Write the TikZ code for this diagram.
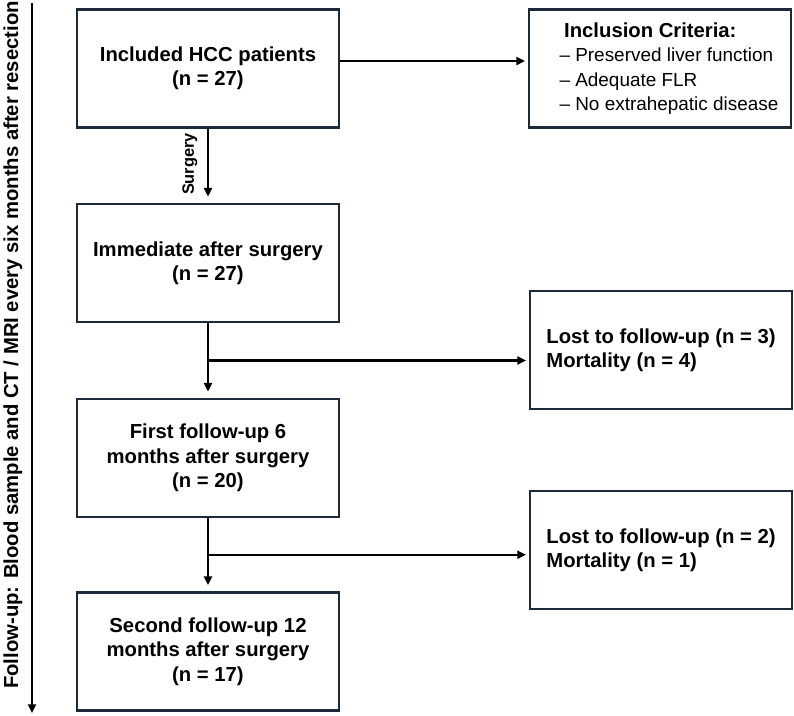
\documentclass[tikz,border=0pt]{standalone}
\usepackage{fontspec}
\setmainfont{Liberation Sans}
\usetikzlibrary{arrows.meta,calc,positioning}
\definecolor{fcNavy}{HTML}{1C2A39}

\begin{document}
\begin{tikzpicture}[x=0.75pt,y=-0.75pt,
  flowbox/.style={draw=fcNavy,line width=2pt,minimum width=196.5pt,minimum height=88.5pt,
    inner sep=2pt,align=center,font=\fontsize{15.2}{18.3}\selectfont\bfseries},
  sidebox/.style={flowbox,align=left},
  arr/.style={line width=1.7pt,-{Triangle[length=6.5pt,width=6pt]}}]
\useasboundingbox (0,0) rectangle (794,716);
\node[flowbox] (incl) at (208,68.5) {Included HCC patients\\(n = 27)};
\node[sidebox] (crit) at (660,68.5) {\hspace*{17pt}Inclusion Criteria:\\
  \hspace*{13.5pt}\fontsize{14.2}{18.3}\selectfont\mdseries\textendash\ Preserved liver function\\
  \hspace*{13.5pt}\fontsize{14.2}{18.3}\selectfont\mdseries\textendash\ Adequate FLR\\
  \hspace*{13.5pt}\fontsize{14.2}{18.3}\selectfont\mdseries\textendash\ No extrahepatic disease};
\node[flowbox] (immed) at (208,263) {Immediate after surgery\\(n = 27)};
\node[sidebox] (lost1) at (661,350) {Lost to follow-up (n = 3)\\Mortality (n = 4)};
\node[flowbox] (first) at (208,458) {First follow-up 6\\months after surgery\\(n = 20)};
\node[sidebox] (lost2) at (661,550) {Lost to follow-up (n = 2)\\Mortality (n = 1)};
\node[flowbox] (second) at (208,651.5) {Second follow-up 12\\months after surgery\\(n = 17)};
\draw[arr,shorten >=2pt] ([yshift=5.6pt]incl.east) -- ([yshift=5.6pt]crit.west);
\draw[arr,shorten >=4.5pt] (incl.south) -- (immed.north);
\node[rotate=90,font=\fontsize{12.3}{14}\selectfont\bfseries] (surg) at (190,164) {Surgery};
\draw[arr,shorten >=4.5pt] (immed.south) -- (first.north);
\draw[arr,shorten >=4.5pt] (first.south) -- (second.north);
\coordinate (br1) at ($(immed.south)!0.5!(first.north)$);
\coordinate (br2) at ($(first.south)!0.5!(second.north)$);
\draw[arr,shorten >=2pt] (br1) -- (br1 -| lost1.west);
\draw[arr,shorten >=2pt] (br2) -- (br2 -| lost2.west);
\coordinate (ftop) at (32,3);
\coordinate (fbot) at (32,713);
\draw[arr] (ftop) -- (fbot);
\node[rotate=90,font=\fontsize{15.2}{18.3}\selectfont\bfseries] (fu) at (13,345)
  {Follow-up: Blood sample and CT / MRI every six months after resection};
\end{tikzpicture}
\end{document}
